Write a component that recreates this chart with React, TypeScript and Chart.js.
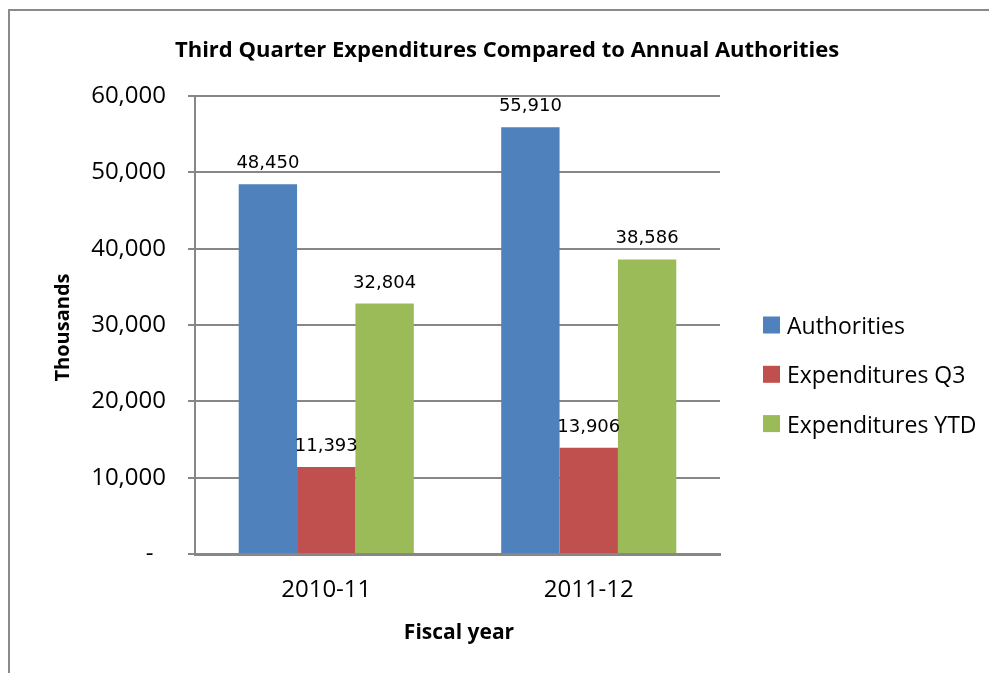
import React, { useEffect, useRef } from "react";
import { Chart, registerables } from "chart.js";

Chart.register(...registerables);

const categories = ["2010-11", "2011-12"];
const seriesNames = ["Authorities", "Expenditures Q3", "Expenditures YTD"];
const authorities = [48450, 55910];
const expendituresQ3 = [11393, 13906];
const expendituresYTD = [32804, 38586];
const seriesColors = ["#4F81BD", "#C0504D", "#9BBB59"];
const yTickValues = [0, 10000, 20000, 30000, 40000, 50000, 60000];
const chartTitle = "Third Quarter Expenditures Compared to Annual Authorities";
const yTitle = "Thousands";
const xTitle = "Fiscal year";

const fmt = (v: number) => v.toLocaleString("en-US");

const extrasPlugin = {
  id: "extras",
  afterDatasetsDraw(chart: any) {
    const ctx = chart.ctx;
    ctx.save();
    ctx.fillStyle = "#000";
    ctx.font = "18px 'DejaVu Sans'";
    ctx.textAlign = "center";
    ctx.textBaseline = "alphabetic";
    chart.data.datasets.forEach((ds: any, i: number) => {
      const meta = chart.getDatasetMeta(i);
      meta.data.forEach((el: any, j: number) => {
        ctx.fillText(fmt(ds.data[j]), el.x, el.y - 16);
      });
    });
    ctx.restore();
  },
  afterDraw(chart: any) {
    const ctx = chart.ctx;
    ctx.save();
    ctx.fillStyle = "#000";
    ctx.textBaseline = "alphabetic";
    // title
    ctx.font = "bold 22px 'Open Sans'";
    ctx.textAlign = "center";
    ctx.fillText(chartTitle, 507, 57);
    // x title
    ctx.font = "bold 21px 'Open Sans'";
    ctx.fillText(xTitle, 459, 639);
    // y title
    ctx.font = "bold 20px 'Open Sans'";
    ctx.save();
    ctx.translate(69, 327.5);
    ctx.rotate(-Math.PI / 2);
    ctx.fillText(yTitle, 0, 0);
    ctx.restore();
    // legend
    ctx.font = "23px 'Open Sans'";
    ctx.textAlign = "left";
    chart.data.datasets.forEach((ds: any, i: number) => {
      const cy = 325 + i * 49.3;
      ctx.fillStyle = ds.backgroundColor;
      ctx.fillRect(763, cy - 8.5, 17, 17);
      ctx.fillStyle = "#000";
      ctx.fillText(ds.label, 787, cy + 9);
    });
    ctx.restore();
  },
};

export default function App() {
  const ref = useRef<HTMLCanvasElement | null>(null);
  useEffect(() => {
    if (!ref.current) return;
    const seriesData = [authorities, expendituresQ3, expendituresYTD];
    const chart = new Chart(ref.current, {
      type: "bar",
      data: {
        labels: categories,
        datasets: seriesNames.map((name, i) => ({
          label: name,
          data: seriesData[i],
          backgroundColor: seriesColors[i],
          borderWidth: 0,
          categoryPercentage: 0.667,
          barPercentage: 1,
        })),
      },
      options: {
        responsive: false,
        animation: false,
        devicePixelRatio: 1,
        layout: { padding: { top: 96, right: 269, bottom: 0, left: 0 } },
        plugins: {
          legend: { display: false },
          title: { display: false },
          tooltip: { enabled: false },
        },
        scales: {
          x: {
            afterFit: (s: any) => {
              s.height = 119;
            },
            grid: { display: false, drawTicks: false },
            border: { display: true, color: "#878787", width: 3 },
            ticks: {
              color: "#000",
              font: { family: "'Open Sans'", size: 24 },
              padding: 22,
            },
          },
          y: {
            min: 0,
            max: 60000,
            afterFit: (s: any) => {
              s.width = 195;
            },
            afterBuildTicks: (s: any) => {
              s.ticks = yTickValues.map((v) => ({ value: v }));
            },
            grid: { color: "#878787", lineWidth: 2, tickLength: 7 },
            border: { display: true, color: "#878787", width: 2 },
            ticks: {
              color: "#000",
              font: { family: "'Open Sans'", size: 24 },
              padding: 22,
              callback: (v: any) => (Number(v) === 0 ? "-  " : fmt(Number(v))),
            },
          },
        },
      },
      plugins: [extrasPlugin],
    });
    return () => chart.destroy();
  }, []);
  return (
    <div style={{ position: "absolute", left: 0, top: 0, width: 989, height: 673, background: "#fff", overflow: "hidden" }}>
      <div
        style={{
          position: "absolute",
          left: 8,
          top: 9,
          width: 1100,
          height: 800,
          border: "2px solid #8a8a8a",
          boxSizing: "border-box",
        }}
      />
      <canvas ref={ref} width={989} height={673} style={{ position: "absolute", left: 0, top: 0 }} />
    </div>
  );
}
